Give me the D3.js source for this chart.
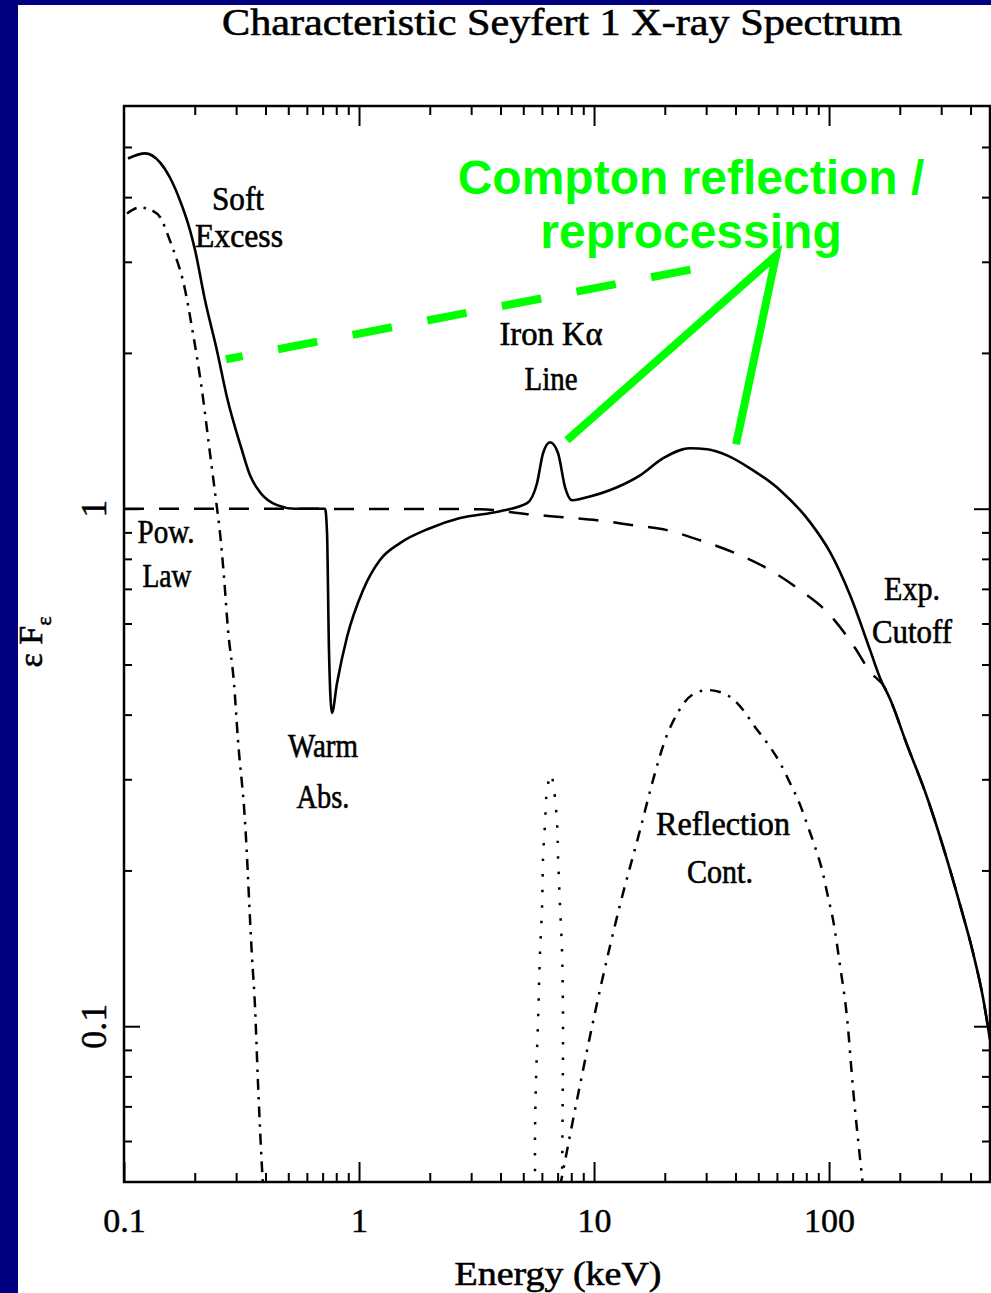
<!DOCTYPE html>
<html><head><meta charset="utf-8">
<script src="https://cdn.jsdelivr.net/npm/d3@7"></script>
<style>html,body{margin:0;padding:0;background:#000080;overflow:hidden} svg{display:block}</style>
</head><body>
<svg id="chart" width="991" height="1293"></svg>
<script>
// ---------------- data ----------------
const title = "Characteristic Seyfert 1 X-ray Spectrum";
const xTitle = "Energy (keV)";

// total model (solid)
const totalE = [0.104,0.1229,0.1422,0.157,0.1731,0.191,0.2006,0.2211,0.2487,0.2744,0.3177,0.3438,0.379,0.448,0.534,0.717,0.731,0.745,0.767,0.806,0.889,1.04,1.228,1.494,2.005,2.69,3.98,5.19,5.72,6.07,6.5,7.03,7.53,8.06,8.98,12.53,15.7,19.7,25.6,30.3,36.8,46.1,61.9,83.0,101,122.8,149.5,164.8,181.8,214.8,261,317.8,361,410,452,484];
const totalF = [4.75,4.86,4.67,4.36,3.94,3.45,3.16,2.53,2.02,1.64,1.297,1.16,1.076,1.016,1.0,1.0,0.897,0.533,0.403,0.460,0.565,0.696,0.796,0.858,0.917,0.959,0.989,1.025,1.12,1.28,1.344,1.28,1.10,1.038,1.048,1.10,1.16,1.252,1.309,1.303,1.268,1.197,1.086,0.942,0.824,0.681,0.533,0.471,0.4287,0.3495,0.2773,0.2097,0.1716,0.1386,0.1135,0.0941];

// power law with exponential cutoff (dashed)
const powE = [0.1,3.27,5.19,7.38,10.3,14.66,20.45,28.25,39.8,56.1,75.3,101,129,149.5,173,181.8,214.8,261,317.8,361,410,452,484];
const powF = [1.0,0.998,0.976,0.963,0.950,0.929,0.909,0.869,0.821,0.761,0.696,0.623,0.538,0.484,0.45,0.4287,0.3495,0.2773,0.2097,0.1716,0.1386,0.1135,0.0941];

// soft excess (dash-dot)
const softE = [0.103,0.117,0.1315,0.145,0.154,0.168,0.1782,0.1966,0.2147,0.2322,0.2463,0.2562,0.2664,0.2771,0.2938,0.3055,0.327,0.3504,0.361,0.3716,0.3828,0.3905];
const softF = [3.72,3.82,3.77,3.61,3.37,3.02,2.76,2.18,1.693,1.28,1.038,0.897,0.738,0.583,0.460,0.357,0.2504,0.1362,0.109,0.0778,0.0578,0.049];

// iron K-alpha line (dotted)
const feE = [5.61,5.61,5.66,5.78,5.89,6.01,6.07,6.19,6.31,6.56,6.76,6.96,7.03,7.17,7.31,7.38,7.36,7.31];
const feF = [0.049,0.0623,0.0778,0.1029,0.1386,0.170,0.2125,0.247,0.286,0.307,0.286,0.247,0.2125,0.170,0.1386,0.1029,0.075,0.049];

// reflection continuum (dash-dot)
const reflE = [7.17,8.72,10.6,12.9,15.7,17.83,20.05,22.8,26.1,30.6,36.8,43.1,48.4,54.5,61.9,68.2,75.3,81.4,87.2,93.4,99.0,104,111.4,119.3,126.5,135.5,139.5];
const reflF = [0.049,0.0771,0.1176,0.1716,0.2395,0.2991,0.357,0.4047,0.4365,0.4462,0.4365,0.4083,0.3787,0.3526,0.3226,0.2952,0.2677,0.2427,0.222,0.2005,0.1778,0.1606,0.1308,0.1038,0.0757,0.0555,0.049];

// ticks
const xMajor = [1,10,100];
const xMinor = [0.2,0.3,0.4,0.5,0.6,0.7,0.8,0.9,2,3,4,5,6,7,8,9,20,30,40,50,60,70,80,90,200,300,400];
const xTickLabels = [0.1,1,10,100];
const yMajor = [0.1,1];
const yMinor = [0.06,0.07,0.08,0.09,0.2,0.3,0.4,0.5,0.6,0.7,0.8,0.9,2,3,4,5];
const yTickLabels = [0.1,1];

// green annotation (energy, flux)
const annoDashE = [0.2716, 27.4];
const annoDashF = [1.944, 2.913];
const annoArrowE = [7.67, 59.5, 40.2];
const annoArrowF = [1.356, 3.086, 1.332];
const annoText = ["Compton reflection /", "reprocessing"];

// ---------------- drawing ----------------
const W = 991, H = 1293;
const svg = d3.select("#chart");
svg.append("rect").attr("x",18).attr("y",5).attr("width",W-18).attr("height",H-5).attr("fill","#ffffff");

const x = d3.scaleLog().domain([0.1, 484]).range([124, 990]);
const y = d3.scaleLog().domain([0.05, 6]).range([1182, 106]);
const [x0,x1] = x.range(), [y0,y1] = [y.range()[1], y.range()[0]];

const serif = "'Liberation Serif', 'DejaVu Serif', serif";

svg.append("defs").append("clipPath").attr("id","clip")
  .append("rect").attr("x",x0).attr("y",y0).attr("width",x1-x0).attr("height",y1-y0);

function styleAxis(g){
  g.select(".domain").remove();
  g.selectAll("line").attr("stroke","#000").attr("stroke-width",2);
}
// minor ticks
svg.append("g").attr("transform",`translate(0,${y1})`).call(d3.axisBottom(x).tickValues(xMinor).tickSize(-9).tickFormat("")).call(styleAxis);
svg.append("g").attr("transform",`translate(0,${y0})`).call(d3.axisTop(x).tickValues(xMinor).tickSize(-9).tickFormat("")).call(styleAxis);
svg.append("g").attr("transform",`translate(${x0},0)`).call(d3.axisLeft(y).tickValues(yMinor).tickSize(-8).tickFormat("")).call(styleAxis);
svg.append("g").attr("transform",`translate(${x1},0)`).call(d3.axisRight(y).tickValues(yMinor).tickSize(-8).tickFormat("")).call(styleAxis);
// major ticks
svg.append("g").attr("transform",`translate(0,${y0})`).call(d3.axisTop(x).tickValues(xMajor).tickSize(-20).tickFormat("")).call(styleAxis);
svg.append("g").attr("transform",`translate(${x0},0)`).call(d3.axisLeft(y).tickValues(yMajor).tickSize(-16).tickFormat("")).call(styleAxis);
svg.append("g").attr("transform",`translate(${x1},0)`).call(d3.axisRight(y).tickValues(yMajor).tickSize(-16).tickFormat("")).call(styleAxis);
const bx = svg.append("g").attr("transform",`translate(0,${y1})`)
  .call(d3.axisBottom(x).tickValues(xTickLabels).tickSize(-20).tickPadding(26).tickFormat(d => String(d)))
  .call(styleAxis);
bx.selectAll("text").attr("font-family",serif).attr("font-size",34).attr("fill","#000")
  .attr("stroke","#000").attr("stroke-width",0.5);

// y tick labels (rotated)
svg.append("g").selectAll("text").data(yTickLabels).join("text")
  .attr("transform", d => `translate(106,${y(d)}) rotate(-90)`)
  .attr("text-anchor","middle")
  .attr("font-family",serif).attr("font-size",36).attr("fill","#000")
  .attr("stroke","#000").attr("stroke-width",0.5)
  .text(d => String(d));

// frame
svg.append("rect").attr("x",x0).attr("y",y0).attr("width",x1-x0).attr("height",y1-y0)
  .attr("fill","none").attr("stroke","#000").attr("stroke-width",2.5);

// curves
const plot = svg.append("g").attr("clip-path","url(#clip)");
const zip = (a,b) => a.map((v,i)=>[v,b[i]]);
const lineM = d3.line().x(d=>x(d[0])).y(d=>y(d[1])).curve(d3.curveMonotoneX);
const lineC = d3.line().x(d=>x(d[0])).y(d=>y(d[1])).curve(d3.curveCatmullRom.alpha(0.5));

plot.append("path").attr("d", lineM(zip(powE,powF))).attr("fill","none").attr("stroke","#000")
  .attr("stroke-width",2.5).attr("stroke-dasharray","20,15");
plot.append("path").attr("d", lineM(zip(softE,softF))).attr("fill","none").attr("stroke","#000")
  .attr("stroke-width",2.5).attr("stroke-dasharray","11,7,2.5,7");
plot.append("path").attr("d", lineC(zip(feE,feF))).attr("fill","none").attr("stroke","#000")
  .attr("stroke-width",2.5).attr("stroke-dasharray","2.5,13");
plot.append("path").attr("d", lineM(zip(reflE,reflF))).attr("fill","none").attr("stroke","#000")
  .attr("stroke-width",2.5).attr("stroke-dasharray","11,8,2.5,8");
plot.append("path").attr("d", lineM(zip(totalE,totalF))).attr("fill","none").attr("stroke","#000")
  .attr("stroke-width",2.6);

// annotation labels (black)
const labels = [
  {t:"Soft", cx:238, by:210, w:52},
  {t:"Excess", cx:239, by:247, w:88},
  {t:"Pow.", cx:166, by:543, w:57},
  {t:"Law", cx:167, by:587, w:49},
  {t:"Warm", cx:323, by:757, w:70},
  {t:"Abs.", cx:323, by:808, w:53},
  {t:"Iron K\u03b1", cx:551, by:345, w:103},
  {t:"Line", cx:551, by:390, w:53},
  {t:"Reflection", cx:723, by:835, w:134},
  {t:"Cont.", cx:720, by:883, w:66},
  {t:"Exp.", cx:912, by:600, w:56},
  {t:"Cutoff", cx:912, by:643, w:80}
];
svg.append("g").selectAll("text").data(labels).join("text")
  .attr("x",d=>d.cx).attr("y",d=>d.by).attr("text-anchor","middle")
  .attr("font-family",serif).attr("font-size",33).attr("fill","#000")
  .attr("stroke","#000").attr("stroke-width",0.6)
  .attr("textLength",d=>d.w).attr("lengthAdjust","spacingAndGlyphs")
  .text(d=>d.t);

// title and axis titles
svg.append("text").attr("x",562).attr("y",35).attr("text-anchor","middle")
  .attr("font-family",serif).attr("font-size",37).attr("fill","#000")
  .attr("stroke","#000").attr("stroke-width",0.6)
  .attr("textLength",680).attr("lengthAdjust","spacingAndGlyphs").text(title);
svg.append("text").attr("x",558).attr("y",1285).attr("text-anchor","middle")
  .attr("font-family",serif).attr("font-size",34).attr("fill","#000")
  .attr("stroke","#000").attr("stroke-width",0.6)
  .attr("textLength",207).attr("lengthAdjust","spacingAndGlyphs").text(xTitle);
const yl = svg.append("text").attr("transform","translate(42,642) rotate(-90)").attr("text-anchor","middle")
  .attr("font-family",serif).attr("font-size",34).attr("fill","#000")
  .attr("stroke","#000").attr("stroke-width",0.6);
yl.append("tspan").text("\u03b5 F");
yl.append("tspan").attr("dy",9).attr("font-size",22).text("\u03b5");

// green annotation
const green = "#00ff00";
svg.append("path").attr("d", d3.line().x(d=>x(d[0])).y(d=>y(d[1]))(zip(annoDashE,annoDashF)))
  .attr("fill","none").attr("stroke",green).attr("stroke-width",8)
  .attr("stroke-dasharray","40,36").attr("stroke-dashoffset",23);
svg.append("path").attr("d", d3.line().x(d=>x(d[0])).y(d=>y(d[1]))(zip(annoArrowE,annoArrowF)))
  .attr("fill","none").attr("stroke",green).attr("stroke-width",8).attr("stroke-linejoin","miter");
svg.append("g").selectAll("text").data(annoText).join("text")
  .attr("x",691).attr("y",(d,i)=>194+i*54).attr("text-anchor","middle")
  .attr("font-family","'Liberation Sans', Arial, sans-serif").attr("font-weight","bold")
  .attr("font-size",48).attr("fill",green).text(d=>d);
</script>
</body></html>
